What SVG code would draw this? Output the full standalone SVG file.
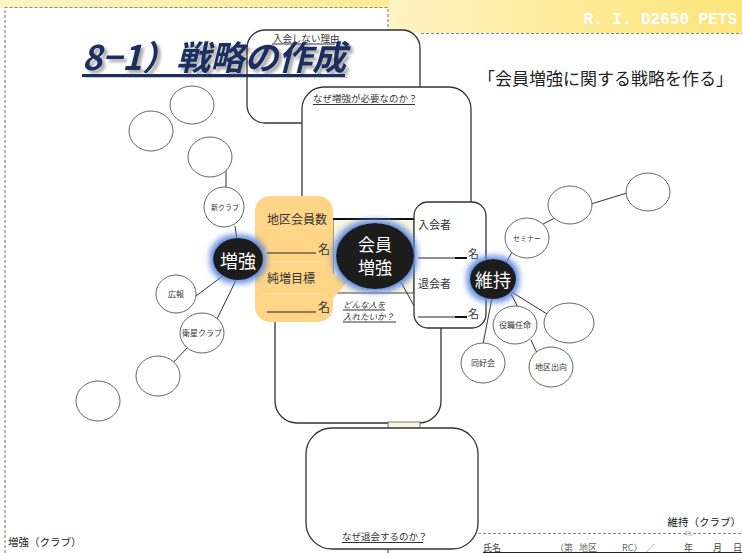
<svg xmlns="http://www.w3.org/2000/svg" width="742" height="553" viewBox="0 0 742 553">
<style>
text{font-family:"Noto Sans CJK JP","Noto Sans",sans-serif;fill:#333}
.box{fill:#fff;stroke:#333;stroke-width:1.3}
.sc{fill:#fff;stroke:#666;stroke-width:1}
.ln{stroke:#333;stroke-width:1;fill:none}
.lb{font-size:8px;text-anchor:middle}
.bc{fill:#1e1c1c}
.wt{fill:#fff;font-size:18px;text-anchor:middle}
.dash{stroke:#888;stroke-width:1.2;stroke-dasharray:3 2;fill:none}
.ul{stroke:#333;stroke-width:1.2}
.bt{font-size:9.5px}
</style>
<defs>
<linearGradient id="yel" x1="0" y1="0" x2="1" y2="0">
<stop offset="0" stop-color="#fdf3c4"/><stop offset="0.5" stop-color="#fdeb98"/><stop offset="1" stop-color="#fde57c"/>
</linearGradient>
<filter id="glow" x="-60%" y="-60%" width="220%" height="220%">
<feMorphology in="SourceAlpha" operator="dilate" radius="3" result="d"/>
<feGaussianBlur in="d" stdDeviation="3" result="b"/>
<feFlood flood-color="#5b86dc"/>
<feComposite in2="b" operator="in" result="g"/>
<feMerge><feMergeNode in="g"/><feMergeNode in="SourceGraphic"/></feMerge>
</filter>
<filter id="shadow" x="-10%" y="-20%" width="130%" height="150%">
<feDropShadow dx="3" dy="3" stdDeviation="1.5" flood-color="#000" flood-opacity="0.35"/>
</filter>
</defs>

<g id="header">
<rect x="0" y="0" width="742" height="8" fill="url(#yel)"/>
<rect x="389" y="0" width="353" height="33" fill="url(#yel)"/>
<text x="737" y="24" text-anchor="end" style="font-family:'Liberation Mono',monospace;font-weight:bold;font-size:16px;fill:#fff">R. I. D2650 PETS</text>
<path class="dash" d="M5,553 V7.5 H388 V30"/>
<path class="dash" d="M421,33.5 H742"/>
<path class="dash" d="M478,533.5 H742"/>
<text x="684" y="536" style="font-size:7px;fill:#aaa">45</text>
</g>

<g id="box-nyukai-shinai">
<rect class="box" x="247" y="30" width="173" height="93" rx="18"/>
<text class="bt" x="273" y="42">入会しない理由</text>
<line class="ul" x1="272" y1="44" x2="335" y2="44"/>
</g>

<g id="title">
<text x="82" y="70" style="font-size:34px;font-style:italic;font-weight:bold;fill:#1b2f5e" filter="url(#shadow)">8−1）戦略の作成</text>
<rect x="82" y="74" width="263" height="3" fill="#1b2f5e" filter="url(#shadow)"/>
</g>

<g id="subtitle">
<text x="478" y="85" style="font-size:17px;fill:#222">「会員増強に関する戦略を作る」</text>
</g>

<g id="box-naze-zokyo">
<rect class="box" x="302" y="87" width="169" height="160" rx="22"/>
<text class="bt" x="313" y="102">なぜ増強が必要なのか？</text>
<line class="ul" x1="313" y1="104.5" x2="415" y2="104.5"/>
</g>

<g id="box-donna">
<rect class="box" x="275" y="260" width="166" height="163" rx="22"/>
<text x="343" y="308" style="font-size:8.5px;font-style:italic">どんな人を</text>
<line class="ul" x1="343" y1="310" x2="385" y2="310"/>
<text x="343" y="320" style="font-size:8.5px;font-style:italic">入れたいか？</text>
<line class="ul" x1="343" y1="322" x2="396" y2="322"/>
</g>

<g id="link-box">
<rect x="388" y="422" width="32" height="7" fill="#fbf6e4" stroke="#555" stroke-width="0.8"/>
<line class="ln" x1="388" y1="548" x2="388" y2="553"/>
</g>

<g id="box-naze-taikai">
<rect class="box" x="306" y="428" width="172" height="121" rx="26"/>
<text class="bt" x="342" y="540">なぜ退会するのか？</text>
<line class="ul" x1="342" y1="542.5" x2="423" y2="542.5"/>
</g>

<g id="middle">
<rect x="333" y="219" width="81" height="74" fill="#fbf6e0" stroke="#444" stroke-width="1"/>
<line x1="333" y1="219" x2="414" y2="219" stroke="#111" stroke-width="2"/>
<line x1="389" y1="293" x2="389" y2="219" stroke="#999" stroke-width="0.8" stroke-dasharray="2 2"/>
</g>

<g id="orange">
<polygon points="330,272 347,282 330,302" fill="#fed586"/>
<rect x="255" y="196" width="78" height="126" rx="15" fill="#fed586"/>
<path d="M262,228 H326 M262,262 H326 M262,294 H326" stroke="#fce3b0" stroke-width="0.8"/>
<text x="267" y="224" style="font-size:12px">地区会員数</text>
<line x1="267" y1="253" x2="316" y2="253" stroke="#222" stroke-width="1"/>
<text x="318" y="254" style="font-size:12px">名</text>
<text x="267" y="283" style="font-size:12px">純増目標</text>
<line x1="267" y1="312" x2="316" y2="312" stroke="#222" stroke-width="1"/>
<text x="318" y="312" style="font-size:12px">名</text>
</g>

<g id="box-nyukaisha">
<rect class="box" x="414" y="202" width="72" height="126" rx="14"/>
<text x="418" y="229" style="font-size:11px">入会者</text>
<line x1="418" y1="258" x2="467" y2="258" stroke="#222" stroke-width="1"/>
<line x1="455" y1="258" x2="467" y2="258" stroke="#111" stroke-width="2"/>
<text x="468" y="258" style="font-size:11px">名</text>
<text x="418" y="288" style="font-size:11px">退会者</text>
<line x1="418" y1="317" x2="467" y2="317" stroke="#222" stroke-width="1"/>
<line x1="455" y1="317" x2="467" y2="317" stroke="#111" stroke-width="2"/>
<text x="468" y="318" style="font-size:11px">名</text>
</g>

<g id="connectors">
<line class="ln" x1="226" y1="169" x2="226" y2="187"/>
<line class="ln" x1="235" y1="226" x2="237" y2="240"/>
<line class="ln" x1="224" y1="275" x2="196" y2="296"/>
<line class="ln" x1="237" y1="278" x2="216" y2="321"/>
<line class="ln" x1="187" y1="348" x2="171" y2="365"/>
<line class="ln" x1="401" y1="282" x2="414" y2="306"/>
<line class="ln" x1="505" y1="265" x2="512" y2="252"/>
<line class="ln" x1="543" y1="224" x2="555" y2="218"/>
<line class="ln" x1="591" y1="204" x2="627" y2="193"/>
<line class="ln" x1="511" y1="294" x2="518" y2="307"/>
<line class="ln" x1="510" y1="291" x2="547" y2="314"/>
<line class="ln" x1="492" y1="298" x2="483" y2="344"/>
<line class="ln" x1="531" y1="340" x2="537" y2="353"/>
</g>

<g id="c-a"><ellipse class="sc" cx="192" cy="105" rx="22" ry="19"/></g>
<g id="c-b"><ellipse class="sc" cx="151" cy="131" rx="22" ry="20"/></g>
<g id="c-c"><ellipse class="sc" cx="210" cy="157" rx="22" ry="20"/></g>
<g id="c-shinclub"><ellipse class="sc" cx="224" cy="207" rx="20" ry="20"/><text class="lb" x="225" y="210" style="font-size:7px">新クラブ</text></g>
<g id="c-koho"><ellipse class="sc" cx="176" cy="294" rx="20" ry="19"/><text class="lb" x="176" y="297">広報</text></g>
<g id="c-eisei"><ellipse class="sc" cx="202" cy="333" rx="22" ry="20"/><text class="lb" x="202" y="336">衛星クラブ</text></g>
<g id="c-d"><ellipse class="sc" cx="158" cy="376" rx="22" ry="20"/></g>
<g id="c-e"><ellipse class="sc" cx="98" cy="401" rx="22" ry="20"/></g>

<g id="c-seminar"><ellipse class="sc" cx="527" cy="238" rx="22" ry="20"/><text class="lb" x="527" y="241" style="font-size:7px">セミナー</text></g>
<g id="c-f"><ellipse class="sc" cx="570" cy="205" rx="22" ry="19"/></g>
<g id="c-g"><ellipse class="sc" cx="648" cy="192" rx="22" ry="19"/></g>
<g id="c-yakushoku"><ellipse class="sc" cx="515" cy="325" rx="22" ry="19"/><text class="lb" x="515" y="328">役職任命</text></g>
<g id="c-h"><ellipse class="sc" cx="569" cy="323" rx="25" ry="20"/></g>
<g id="c-dokokai"><ellipse class="sc" cx="483" cy="363" rx="22" ry="20"/><text class="lb" x="483" y="366">同好会</text></g>
<g id="c-chiku"><ellipse class="sc" cx="551" cy="367" rx="22" ry="20"/><text class="lb" x="551" y="370">地区出向</text></g>

<g id="n-zokyo">
<ellipse class="bc" cx="238" cy="259" rx="25" ry="21" filter="url(#glow)"/>
<text class="wt" x="238" y="268">増強</text>
</g>

<g id="n-kaiin-zokyo">
<ellipse class="bc" cx="375" cy="256" rx="39" ry="33" filter="url(#glow)"/>
<text class="wt" x="375" y="251" style="font-size:17px">会員</text>
<text class="wt" x="375" y="274" style="font-size:17px">増強</text>
</g>

<g id="n-iji">
<ellipse class="bc" cx="493" cy="279" rx="23" ry="20" filter="url(#glow)"/>
<text class="wt" x="493" y="287">維持</text>
</g>

<g id="footer">
<text x="8" y="546" style="font-size:10.5px;fill:#222">増強（クラブ）</text>
<text x="741" y="526" text-anchor="end" style="font-size:10.5px;fill:#222">維持（クラブ）</text>
<g style="font-size:9px">
<text x="483" y="551" style="fill:#444">氏名</text>
<text x="555" y="551" style="fill:#666">（第</text>
<text x="579" y="551" style="fill:#666">地区</text>
<text x="622" y="551" style="fill:#666">RC）</text>
<text x="646" y="551" style="fill:#666">／</text>
<text x="684" y="551" style="fill:#444">年</text>
<text x="713" y="551" style="fill:#444">月</text>
<text x="733" y="551" style="fill:#444">日</text>
</g>
<line x1="483" y1="552.5" x2="742" y2="552.5" stroke="#222" stroke-width="1.2"/>
</g>
</svg>
